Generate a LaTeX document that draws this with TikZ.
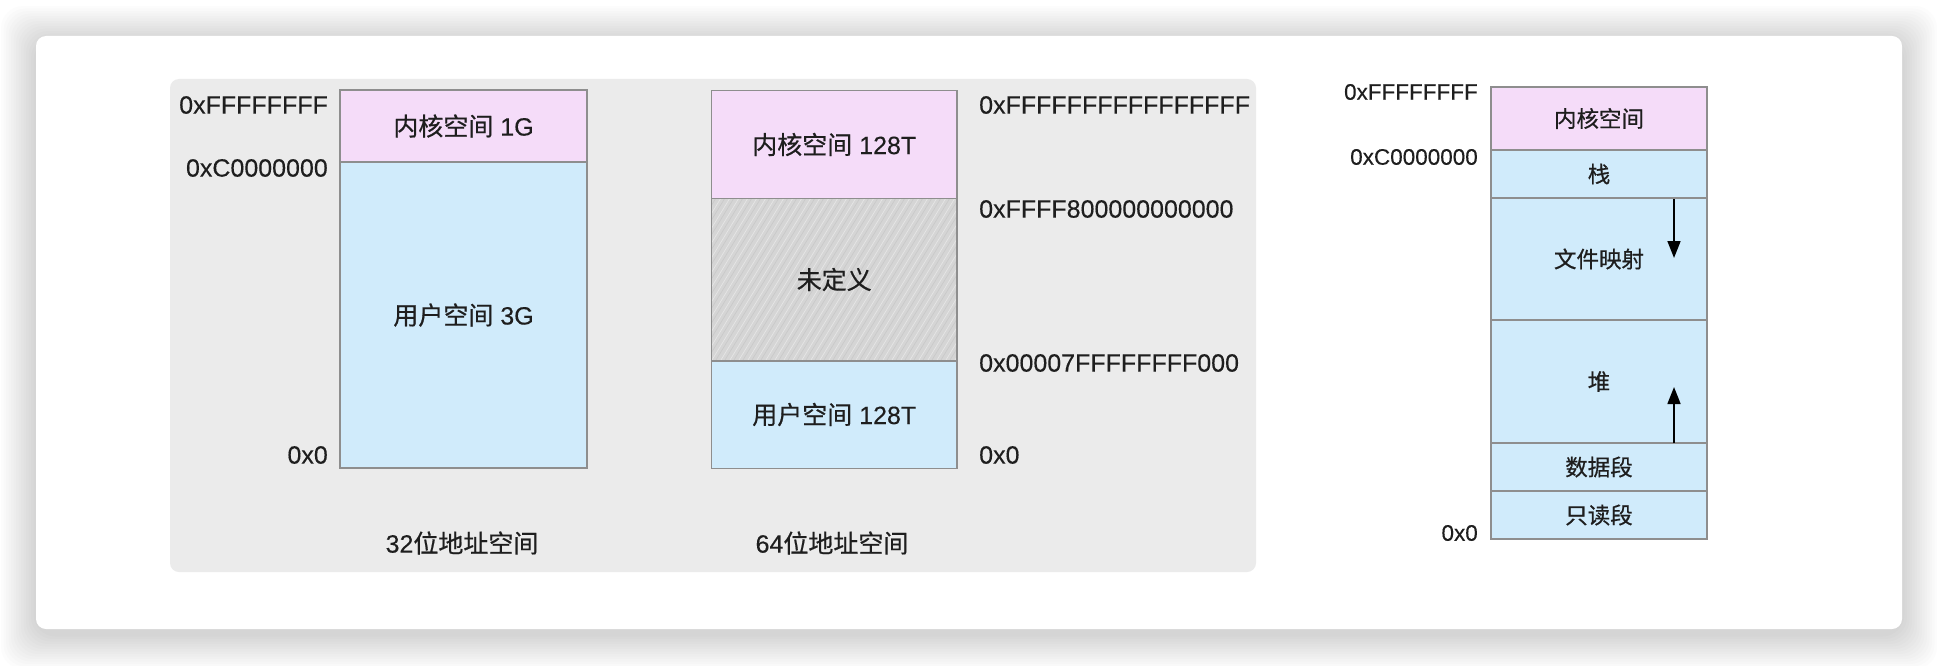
\documentclass[tikz,border=0pt]{standalone}
\usepackage{fontspec}
\setmainfont{Liberation Sans}[FakeBold=0.25]
\newfontfamily\cjk{Noto Sans CJK SC}[FakeBold=0.6]
\usetikzlibrary{arrows.meta}
\definecolor{kern}{HTML}{F5DCF9}
\definecolor{usr}{HTML}{D0EBFB}
\definecolor{panel}{HTML}{EBEBEB}
\definecolor{edge}{HTML}{8E8E8E}
\definecolor{undef}{HTML}{D5D5D5}
\definecolor{ink}{HTML}{1E1E1E}
\begin{document}
\begin{tikzpicture}[x=1pt,y=-1pt,
  seg/.style={draw=edge, line width=1.5pt, inner sep=0pt, outer sep=0pt, text=ink},
  big/.style={font=\fontsize{25}{30}\selectfont, text=ink, inner sep=0pt},
  mid/.style={font=\fontsize{22.5}{27}\selectfont, text=ink, inner sep=0pt},
  arr/.style={-{Triangle[length=17pt,width=13pt]}, line width=1.6pt, black}]
\fill[white] (0,0) rectangle (1938,666);
\useasboundingbox (0,0) rectangle (1938,666);
% shadow of the card
\foreach \i in {1,...,14}
  \fill[black, opacity=0.013, rounded corners=22pt] (36-2.5*\i,36-2.5*\i+5) rectangle (1902+2.5*\i,629+2.5*\i+5);
\fill[white, rounded corners=10pt] (36,36) rectangle (1902,629);
% grey panel
\fill[panel, rounded corners=9pt] (170,79) rectangle (1256,572);

% ---- 32-bit
\node[seg, big, fill=kern, minimum width=247pt, minimum height=72pt] (k32) at (463.5,126) {{\cjk 内核空间} 1G};
\node[seg, big, fill=usr, minimum width=247pt, minimum height=306pt] (u32) at (463.5,315) {{\cjk 用户空间} 3G};
\node[big, anchor=east] (l32a) at (328,105) {0xFFFFFFFF};
\node[big, anchor=east] (l32b) at (328,168) {0xC0000000};
\node[big, anchor=east] (l32c) at (328,455) {0x0};
\node[big] (t32) at (462,543) {32{\cjk 位地址空间}};

% ---- 64-bit
\node[seg, big, fill=kern, minimum width=245.5pt, minimum height=107.5pt] (k64) at (834.25,144.5) {{\cjk 内核空间} 128T};
\node[seg, big, fill=undef, minimum width=245.5pt, minimum height=162.5pt,
  path picture={\foreach \k in {-14,...,30}
    \draw[white, opacity=0.4, line width=0.7pt] ([xshift=\k*9pt]path picture bounding box.south west) -- ++(110pt,180pt);
    \foreach \k in {-14,...,30}
    \draw[black, opacity=0.05, line width=0.7pt] ([xshift=\k*9pt+4pt]path picture bounding box.south west) -- ++(110pt,180pt);}] (n64) at (834.25,279.5) {\cjk 未定义};
\node[seg, big, fill=usr, minimum width=245.5pt, minimum height=107.5pt] (u64) at (834.25,414.5) {{\cjk 用户空间} 128T};
\node[big, anchor=west] (l64a) at (979,105) {0xFFFFFFFFFFFFFFFF};
\node[big, anchor=west] (l64b) at (979,209) {0xFFFF800000000000};
\node[big, anchor=west] (l64c) at (979,363) {0x00007FFFFFFFF000};
\node[big, anchor=west] (l64d) at (979,455) {0x0};
\node[big] (t64) at (832,543) {64{\cjk 位地址空间}};

% ---- process layout
\node[seg, mid, fill=kern, minimum width=216pt, minimum height=63pt] (rk) at (1599,118.5) {\cjk 内核空间};
\node[seg, mid, fill=usr, minimum width=216pt, minimum height=48pt] (rs) at (1599,174) {\cjk 栈};
\node[seg, mid, fill=usr, minimum width=216pt, minimum height=122pt] (rm) at (1599,259) {\cjk 文件映射};
\node[seg, mid, fill=usr, minimum width=216pt, minimum height=123pt] (rh) at (1599,381.5) {\cjk 堆};
\node[seg, mid, fill=usr, minimum width=216pt, minimum height=48pt] (rd) at (1599,467) {\cjk 数据段};
\node[seg, mid, fill=usr, minimum width=216pt, minimum height=48pt] (rr) at (1599,515) {\cjk 只读段};
\node[mid, anchor=east] (lra) at (1478,92) {0xFFFFFFFF};
\node[mid, anchor=east] (lrb) at (1478,157) {0xC0000000};
\node[mid, anchor=east] (lrc) at (1478,533) {0x0};

\coordinate (d1) at (1674,199);
\coordinate (d2) at (1674,258);
\coordinate (h1) at (1674,443);
\coordinate (h2) at (1674,387);
\draw[arr] (d1) -- (d2);
\draw[arr] (h1) -- (h2);
\end{tikzpicture}
\end{document}
